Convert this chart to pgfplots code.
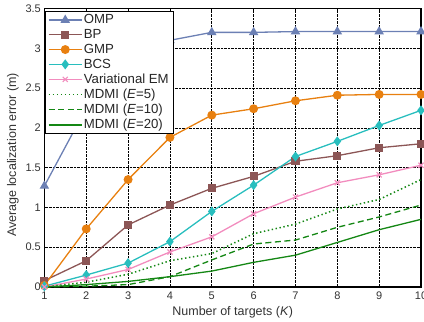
\documentclass[border=0pt]{standalone}
\usepackage{fontspec}
\setmainfont{Liberation Sans}
\usepackage{pgfplots}
\pgfplotsset{compat=1.18}
\usetikzlibrary{calc}
\definecolor{ompc}{RGB}{108,128,180}
\definecolor{bpc}{RGB}{140,86,86}
\definecolor{gmpc}{RGB}{232,128,16}
\definecolor{bcsc}{RGB}{40,190,190}
\definecolor{vemc}{RGB}{242,140,190}
\definecolor{mdc}{RGB}{20,135,20}
\begin{document}
\begin{tikzpicture}
\begin{axis}[
  scale only axis,
  width=376.6pt, height=278.5pt,
  xmin=1, xmax=10, ymin=0, ymax=3.5,
  xtick={1,...,10},
  ytick={0,0.5,...,3.5},
  yticklabels={0,0.5,1,1.5,2,2.5,3,3.5},
  /pgf/number format/assume math mode=true,
  tick label style={font=\fontsize{11}{13}\selectfont, text=black!80},
  label style={font=\fontsize{12.5}{15}\selectfont, text=black!80},
  xlabel={Number of targets (\textit{K})},
  ylabel={Average localization error (m)},
  ylabel style={xshift=-7pt},
  grid=major,
  major grid style={black, densely dotted, line width=0.6pt},
  axis line style={black, line width=1.4pt},
  tick style={black, line width=0.6pt},
  tick align=inside,
  major tick length=3pt,
  xticklabel style={yshift=-1pt},
  legend style={at={(axis description cs:0,1)}, anchor=north west,
     xshift=1pt, yshift=-3pt,
     draw=black, fill=white,
     font=\fontsize{13.2}{15.5}\selectfont,
     inner xsep=2.5pt, inner ysep=1.5pt, row sep=1.1pt,
     nodes={inner sep=1.5pt, text=black!85}},
  legend cell align=left,
  legend image code/.code={\draw[mark repeat=2,mark phase=2,line width=1.3pt] plot coordinates {(0cm,0cm)(0.58cm,0cm)(1.16cm,0cm)};},
  clip=false,
]
\addplot[ompc, line width=1.3pt, mark=triangle*, mark size=4.2pt, mark options={solid}] coordinates {
(1,1.27)(2,2.25)(3,2.8)(4,3.1)(5,3.2)(6,3.2)(7,3.21)(8,3.21)(9,3.21)(10,3.21)};
\addlegendentry{OMP}
\addplot[bpc, line width=1.3pt, mark=square*, mark size=3.4pt] coordinates {
(1,0.08)(2,0.33)(3,0.78)(4,1.03)(5,1.24)(6,1.39)(7,1.58)(8,1.65)(9,1.75)(10,1.80)};
\addlegendentry{BP}
\addplot[gmpc, line width=1.3pt, mark=*, mark size=3.8pt] coordinates {
(1,0.02)(2,0.73)(3,1.35)(4,1.88)(5,2.16)(6,2.24)(7,2.34)(8,2.41)(9,2.42)(10,2.42)};
\addlegendentry{GMP}
\addplot[bcsc, line width=1.3pt, mark=diamond*, mark size=4pt] coordinates {
(1,0.01)(2,0.15)(3,0.30)(4,0.57)(5,0.95)(6,1.28)(7,1.64)(8,1.83)(9,2.03)(10,2.22)};
\addlegendentry{BCS}
\addplot[vemc, line width=1.3pt, mark=x, mark size=3.6pt, mark options={line width=1.2pt}] coordinates {
(1,0.0)(2,0.10)(3,0.22)(4,0.44)(5,0.63)(6,0.92)(7,1.13)(8,1.31)(9,1.41)(10,1.53)};
\addlegendentry{Variational EM}
\addplot[mdc, line width=1.5pt, dash pattern=on 1.4pt off 2.6pt] coordinates {
(1,0.0)(2,0.06)(3,0.16)(4,0.33)(5,0.42)(6,0.67)(7,0.79)(8,0.98)(9,1.10)(10,1.35)};
\addlegendentry{MDMI (\textit{E}=5)}
\addplot[mdc, line width=1.3pt, dash pattern=on 6pt off 3.5pt] coordinates {
(1,0.0)(2,0.01)(3,0.03)(4,0.13)(5,0.34)(6,0.54)(7,0.59)(8,0.75)(9,0.88)(10,1.03)};
\addlegendentry{MDMI (\textit{E}=10)}
\addplot[mdc, line width=1.3pt] coordinates {
(1,0.0)(2,0.03)(3,0.07)(4,0.13)(5,0.20)(6,0.31)(7,0.40)(8,0.56)(9,0.72)(10,0.85)};
\addlegendentry{MDMI (\textit{E}=20)}
\end{axis}
\pgfresetboundingbox
\useasboundingbox ($(current axis.south west)+(-44.4pt,-35pt)$) rectangle ($(current axis.north east)+(3pt,8.5pt)$);
\end{tikzpicture}
\end{document}
